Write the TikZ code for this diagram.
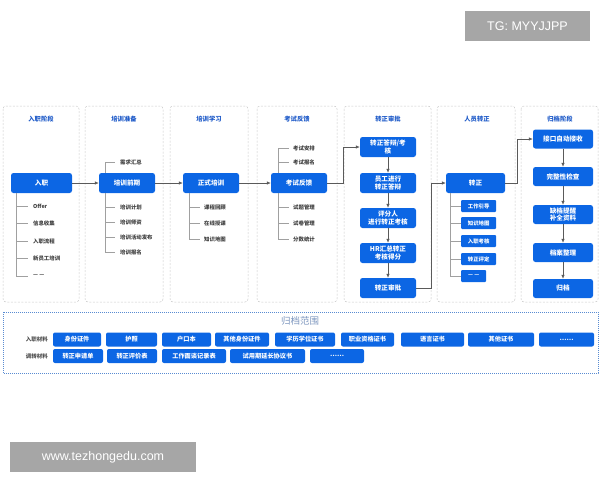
\documentclass[tikz,border=0pt]{standalone}
\usepackage{fontspec}
\setmainfont{Noto Sans CJK SC}
\newfontfamily\wmfont{Liberation Sans}
\usetikzlibrary{arrows.meta}
\definecolor{myblue}{RGB}{12,102,228}
\definecolor{titleblue}{RGB}{30,90,200}
\definecolor{colgray}{RGB}{200,200,200}
\definecolor{treegray}{RGB}{160,160,160}
\definecolor{arrgray}{RGB}{90,90,90}
\definecolor{dotblue}{RGB}{90,140,210}
\definecolor{rangecol}{RGB}{125,150,190}
\definecolor{wmgray}{RGB}{166,166,166}
\tikzset{
  colbox/.style={draw=colgray, line width=0.5pt, dash pattern=on 2pt off 1.5pt, rounded corners=3pt},
  bnode/.style={fill=myblue, rounded corners=2.5pt, text=white, align=center, inner sep=0pt,
     font=\bfseries\fontsize{6.6}{7.4}\selectfont},
  coltitle/.style={text=titleblue, font=\bfseries\fontsize{6.3}{7}\selectfont, inner sep=0pt},
  item/.style={anchor=west, inner sep=0pt, text=black!75, font=\bfseries\fontsize{5.4}{6}\selectfont},
  sbox/.style={fill=myblue, rounded corners=1pt, text=white, inner sep=0pt, anchor=west,
     minimum height=12pt, font=\bfseries\fontsize{5.4}{6}\selectfont},
  tree/.style={draw=treegray, line width=0.5pt},
  arr/.style={draw=arrgray, line width=0.6pt, -{Latex[length=4pt,width=3.5pt]}},
  mat/.style={fill=myblue, rounded corners=2pt, text=white, inner sep=0pt, minimum height=14pt,
     font=\bfseries\fontsize{6.2}{7}\selectfont},
  matlabel/.style={anchor=east, inner sep=0pt, text=black!70, font=\bfseries\fontsize{5.5}{6}\selectfont},
  wm/.style={fill=wmgray, text=white, inner sep=0pt, font=\wmfont\fontsize{12.5}{13}\selectfont}
}
\begin{document}
\begin{tikzpicture}[x=1pt,y=-1pt]
\useasboundingbox (0,0) rectangle (600,480);
% watermarks
\node[wm, minimum width=125pt, minimum height=30pt] (wm1) at (527.5,26) {TG: MYYJJPP};
\node[wm, minimum width=186pt, minimum height=30pt] (wm2) at (103,457) {www.tezhongedu.com};
% column boxes
\draw[colbox] (3,106) rectangle (79,302);
\draw[colbox] (85,106) rectangle (163,302);
\draw[colbox] (170,106) rectangle (248,302);
\draw[colbox] (257,106) rectangle (337,302);
\draw[colbox] (344,106) rectangle (431,302);
\draw[colbox] (437,106) rectangle (515,302);
\draw[colbox] (521,106) rectangle (598,302);
% column titles
\node[coltitle] (t1) at (41,119) {入职阶段};
\node[coltitle] (t2) at (124,119) {培训准备};
\node[coltitle] (t3) at (209,119) {培训学习};
\node[coltitle] (t4) at (297,119) {考试反馈};
\node[coltitle] (t5) at (388,119) {转正审批};
\node[coltitle] (t6) at (477,119) {人员转正};
\node[coltitle] (t7) at (560,119) {归档阶段};
% main nodes
\node[bnode, minimum width=61pt, minimum height=20pt] (n1) at (41.5,183) {入职};
\node[bnode, minimum width=56pt, minimum height=20pt] (n2) at (127,183) {培训前期};
\node[bnode, minimum width=56pt, minimum height=20pt] (n3) at (211,183) {正式培训};
\node[bnode, minimum width=56pt, minimum height=20pt] (n4) at (299,183) {考试反馈};
% column 5
\node[bnode, minimum width=56pt, minimum height=20pt] (p1) at (388,147) {转正答辩/考\\核};
\node[bnode, minimum width=56pt, minimum height=20pt] (p2) at (388,183) {员工进行\\转正答辩};
\node[bnode, minimum width=56pt, minimum height=20pt] (p3) at (388,218) {评分人\\进行转正考核};
\node[bnode, minimum width=56pt, minimum height=20pt] (p4) at (388,253) {HR汇总转正\\考核得分};
\node[bnode, minimum width=56pt, minimum height=20pt] (p5) at (388,288) {转正审批};
% column 6
\node[bnode, minimum width=59pt, minimum height=20pt] (n6) at (475.5,183) {转正};
% column 7
\node[bnode, minimum width=60pt, minimum height=19pt] (g1) at (563,139) {接口自动接收};
\node[bnode, minimum width=60pt, minimum height=19pt] (g2) at (563,176.5) {完整性检查};
\node[bnode, minimum width=60pt, minimum height=19pt] (g3) at (563,214.5) {缺档提醒\\补全资料};
\node[bnode, minimum width=60pt, minimum height=19pt] (g4) at (563,252.5) {档案整理};
\node[bnode, minimum width=60pt, minimum height=19pt] (g5) at (563,288.5) {归档};
% column 1 tree
\coordinate (c1) at (16,276);
\draw[tree] (n1.south -| c1) -- (c1);
\foreach \y/\txt/\nm in {206/Offer/a1, 223/信息收集/a2, 241/入职流程/a3, 258/新员工培训/a4, 276/— —/a5}{
  \node[item] (\nm) at (33,\y) {\txt};
  \draw[tree] (16,\y) -- ([xshift=-5pt]\nm.west);
}
% column 2 tree
\coordinate (c2t) at (105,162);
\coordinate (c2b) at (105,252);
\draw[tree] (c2t) -- (n2.north -| c2t);
\draw[tree] (n2.south -| c2b) -- (c2b);
\foreach \y/\txt/\nm in {162/需求汇总/b0, 207/培训计划/b1, 222/培训师资/b2, 237/培训活动发布/b3, 252/培训报名/b4}{
  \node[item] (\nm) at (120,\y) {\txt};
  \draw[tree] (105,\y) -- ([xshift=-5pt]\nm.west);
}
% column 3 tree
\coordinate (c3b) at (189,239);
\draw[tree] (n3.south -| c3b) -- (c3b);
\foreach \y/\txt/\nm in {207/课程回顾/d1, 223/在线授课/d2, 239/知识地图/d3}{
  \node[item] (\nm) at (204,\y) {\txt};
  \draw[tree] (189,\y) -- ([xshift=-4pt]\nm.west);
}
% column 4 tree
\coordinate (c4t) at (278,148);
\coordinate (c4b) at (278,239);
\draw[tree] (c4t) -- (n4.north -| c4t);
\draw[tree] (n4.south -| c4b) -- (c4b);
\foreach \y/\txt/\nm in {148/考试安排/e1, 162/考试报名/e2, 207/试题管理/e3, 223/试卷管理/e4, 239/分数统计/e5}{
  \node[item] (\nm) at (293,\y) {\txt};
  \draw[tree] (278,\y) -- ([xshift=-4pt]\nm.west);
}
% column 6 tree
\coordinate (c6b) at (450,276);
\draw[tree] (n6.south -| c6b) -- (c6b);
\foreach \y/\txt/\nm/\w in {206/工作引导/f1/35, 223/知识地图/f2/35, 241/入职考核/f3/35, 259/转正评定/f4/35, 276/— —/f5/25}{
  \node[sbox, minimum width=\w pt] (\nm) at (461,\y) {\txt};
  \draw[tree] (450,\y) -- (\nm.west);
}
% arrows
\draw[arr] (n1) -- (n2);
\draw[arr] (n2) -- (n3);
\draw[arr] (n3) -- (n4);
\coordinate (k1) at (343,0);
\draw[arr] (n4.east) -- (n4.east -| k1) -- (p1.west -| k1) -- (p1.west);
\draw[arr] (p1) -- (p2);
\draw[arr] (p2) -- (p3);
\draw[arr] (p3) -- (p4);
\draw[arr] (p4) -- (p5);
\coordinate (k2) at (431,0);
\draw[arr] (p5.east) -- (p5.east -| k2) -- (n6.west -| k2) -- (n6.west);
\coordinate (k3) at (517,0);
\draw[arr] (n6.east) -- (n6.east -| k3) -- (g1.west -| k3) -- (g1.west);
\draw[arr] (g1) -- (g2);
\draw[arr] (g2) -- (g3);
\draw[arr] (g3) -- (g4);
\draw[arr] (g4) -- (g5);
% bottom section
\draw[draw=dotblue, line width=0.8pt, dash pattern=on 0.8pt off 1.2pt] (3,312) rectangle (598,373);
\node[text=rangecol, inner sep=0pt, font=\fontsize{9.5}{10}\selectfont] (rng) at (300,321) {归档范围};
\node[matlabel] (l1) at (48,339.5) {入职材料};
\node[matlabel] (l2) at (48,356) {调转材料};
\foreach \xa/\xb/\txt/\nm in {53/101/身份证件/m1, 106/157/护照/m2, 162/211/户口本/m3, 215/269/其他身份证件/m4, 275/335/学历学位证书/m5, 341/394/职业资格证书/m6, 401/464/语言证书/m7, 468/534/其他证书/m8, 539/594/……/m9}{
  \node[mat, minimum width=\xb pt-\xa pt] (\nm) at ({(\xa+\xb)/2},339.5) {\txt};
}
\foreach \xa/\xb/\txt/\nm in {53/103/转正申请单/r1, 107/157/转正评价表/r2, 162/226/工作面谈记录表/r3, 230/305/试用期延长协议书/r4, 310/364/……/r5}{
  \node[mat, minimum width=\xb pt-\xa pt] (\nm) at ({(\xa+\xb)/2},356) {\txt};
}
\end{tikzpicture}
\end{document}
